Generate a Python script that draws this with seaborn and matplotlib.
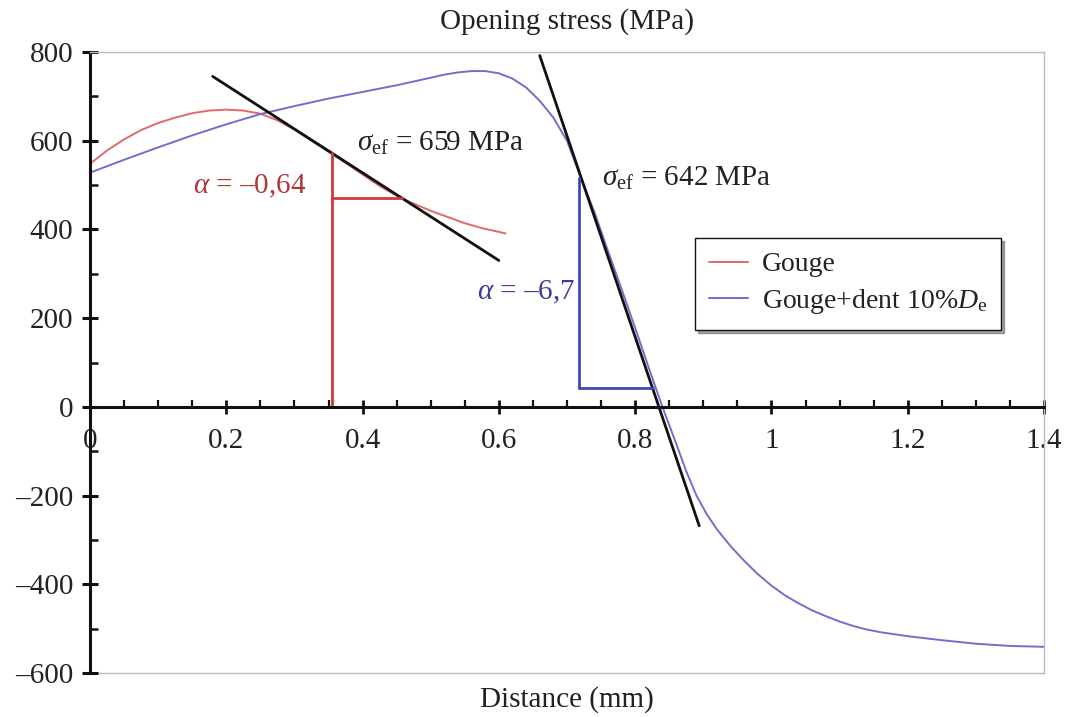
import matplotlib
matplotlib.use("Agg")
import matplotlib.pyplot as plt
import seaborn as sns
import numpy as np
from matplotlib.ticker import MultipleLocator

# ---------------- data ----------------
gouge_x = [0.00, 0.025, 0.05, 0.075, 0.10, 0.125, 0.15, 0.175, 0.20, 0.225, 0.25, 0.275,
           0.30, 0.325, 0.35, 0.375, 0.40, 0.425, 0.45, 0.475, 0.50, 0.525, 0.55, 0.575, 0.61]
gouge_y = [548, 578, 603, 624, 640, 652, 662, 668, 670, 668, 661, 646,
           625, 600, 575, 550, 524, 498, 476, 458, 442, 428, 414, 403, 391]

dent_x = [0.00, 0.05, 0.10, 0.15, 0.20, 0.25, 0.30, 0.35, 0.40, 0.45, 0.50, 0.52, 0.54,
          0.56, 0.58, 0.60, 0.62, 0.64, 0.66, 0.68, 0.70, 0.72, 0.74, 0.76, 0.78, 0.80,
          0.82, 0.84, 0.86, 0.875, 0.89, 0.905, 0.92, 0.94, 0.96, 0.98, 1.00, 1.02,
          1.04, 1.06, 1.08, 1.10, 1.12, 1.14, 1.16, 1.20, 1.25, 1.30, 1.35, 1.40]
dent_y = [528, 557, 585, 612, 637, 660, 678, 695, 710, 725, 742, 749, 754,
          757, 757, 752, 740, 720, 690, 652, 600, 518, 440, 352, 266, 178,
          88, 0, -82, -145, -200, -242, -276, -314, -347, -377, -403, -425,
          -443, -459, -472, -484, -494, -502, -508, -517, -526, -534, -539, -541]

series_labels = ["Gouge", "Gouge+dent 10%$D_\\mathrm{e}$"]

# tangent lines (end points) and construction lines
tan1_x = [0.18, 0.60]
tan1_y = [745, 330]
tan2_x = [0.66, 0.894]
tan2_y = [792, -268]
red_vert_x = [0.355, 0.355]
red_vert_y = [0, 572]
red_hor_x = [0.355, 0.458]
red_hor_y = [470, 470]
blue_vert_x = [0.718, 0.718]
blue_vert_y = [43, 515]
blue_hor_x = [0.718, 0.826]
blue_hor_y = [43, 43]

x_ticks = [0, 0.2, 0.4, 0.6, 0.8, 1.0, 1.2, 1.4]
x_ticklabels = ["0", "0.2", "0.4", "0.6", "0.8", "1", "1.2", "1.4"]
y_ticks = [-600, -400, -200, 0, 200, 400, 600, 800]
y_ticklabels = ["\u2013600", "\u2013400", "\u2013200", "0", "200", "400", "600", "800"]

# ---------------- style ----------------
sns.set_style("white")
plt.rcParams['font.family'] = ['Liberation Serif', 'DejaVu Serif']
plt.rcParams['mathtext.fontset'] = 'custom'
plt.rcParams['mathtext.rm'] = 'Liberation Serif'
plt.rcParams['mathtext.it'] = 'Liberation Serif:italic'
plt.rcParams['mathtext.bf'] = 'Liberation Serif:bold'

FS = 21
TXT = '#222222'
RED_CURVE = '#E06A6A'
BLUE_CURVE = '#7070CC'
RED_DARK = '#D23A3A'
BLUE_DARK = '#4545B0'

fig = plt.figure(figsize=(10.68, 7.17), dpi=100)
ax = fig.add_axes([90 / 1068, 1 - 673 / 717, (1044 - 90) / 1068, (673 - 52) / 717])

sns.lineplot(x=gouge_x, y=gouge_y, ax=ax, color=RED_CURVE, lw=1.4, label=series_labels[0])
sns.lineplot(x=dent_x, y=dent_y, ax=ax, color=BLUE_CURVE, lw=1.4, label=series_labels[1])

ax.plot(tan1_x, tan1_y, color='#111111', lw=2.0)
ax.plot(tan2_x, tan2_y, color='#111111', lw=2.0)
ax.plot(red_vert_x, red_vert_y, color=RED_DARK, lw=2.0)
ax.plot(red_hor_x, red_hor_y, color=RED_DARK, lw=2.0)
ax.plot(blue_vert_x, blue_vert_y, color=BLUE_DARK, lw=2.0)
ax.plot(blue_hor_x, blue_hor_y, color=BLUE_DARK, lw=2.0)

ax.set_xlim(0, 1.4)
ax.set_ylim(-600, 800)

# spines
ax.spines['left'].set_color('#111111')
ax.spines['left'].set_linewidth(2.2)
ax.spines['bottom'].set_position(('data', 0))
ax.spines['bottom'].set_color('#111111')
ax.spines['bottom'].set_linewidth(2.2)
for s in ['top', 'right']:
    ax.spines[s].set_color('#BBBBBB')
    ax.spines[s].set_linewidth(1.0)
ax.axhline(-600, color='#BBBBBB', lw=1.0, clip_on=False, zorder=0)

ax.set_xticks(x_ticks)
ax.set_xticklabels(x_ticklabels)
ax.set_yticks(y_ticks)
ax.set_yticklabels(y_ticklabels)
ax.xaxis.set_minor_locator(MultipleLocator(0.05))
ax.yaxis.set_minor_locator(MultipleLocator(100))
ax.tick_params(axis='y', which='major', direction='inout', length=12, width=2.2,
               color='#111111', labelsize=FS, labelcolor=TXT, pad=6, left=True)
ax.tick_params(axis='y', which='minor', direction='in', length=6, width=1.8,
               color='#111111', left=True)
ax.tick_params(axis='x', which='major', direction='inout', length=10, width=2.0,
               color='#111111', labelsize=FS, labelcolor=TXT, pad=10, bottom=True)
ax.tick_params(axis='x', which='minor', direction='in', length=5, width=1.6,
               color='#111111', bottom=True)

ax.set_xlabel('')
ax.set_ylabel('')
ax.text(0.5, 1.049, 'Opening stress (MPa)', transform=ax.transAxes, ha='center',
        va='center', fontsize=FS, color=TXT)
ax.text(0.5, -0.043, 'Distance (mm)', transform=ax.transAxes, ha='center',
        va='center', fontsize=FS, color=TXT)

# annotations
ax.text(0.392, 595, '$\\sigma_{\\mathrm{ef}}$ = 659 MPa', fontsize=FS, color=TXT,
        ha='left', va='center')
ax.text(0.752, 516, '$\\sigma_{\\mathrm{ef}}$ = 642 MPa', fontsize=FS, color=TXT,
        ha='left', va='center')
ax.text(0.151, 498, '$\\alpha$ = \u20130,64', fontsize=FS, color='#B03535',
        ha='left', va='center')
ax.text(0.712, 257, '$\\alpha$ = \u20136,7', fontsize=FS, color='#3B3BA0',
        ha='right', va='center')

leg = ax.legend(loc='upper left', bbox_to_anchor=((695 - 90) / 954, 1 - (238 - 52) / 621),
                fontsize=20, frameon=True, fancybox=False, shadow=True,
                edgecolor='#111111', framealpha=1, handlelength=1.4,
                borderpad=0.5, labelspacing=0.35, handletextpad=0.5, borderaxespad=0)
leg.get_frame().set_linewidth(1.0)
for t in leg.get_texts():
    t.set_color(TXT)

fig.savefig('out.png', dpi=100)
